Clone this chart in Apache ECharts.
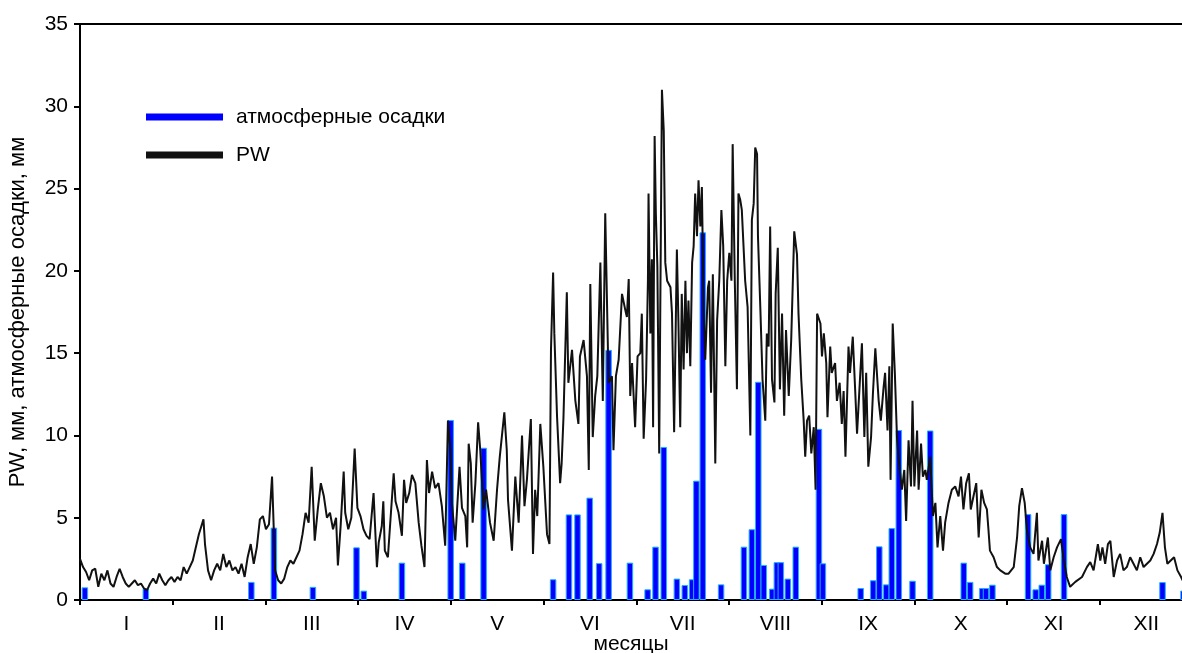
<!DOCTYPE html>
<html>
<head>
<meta charset="utf-8">
<script src="https://cdn.jsdelivr.net/npm/echarts@6/dist/echarts.min.js"></script>
<style>
html,body{margin:0;padding:0;background:#fff;}
#chart{width:1182px;height:653px;}
</style>
</head>
<body>
<div id="chart"></div>
<script>
// Month labels (x axis)
const monthLabels = ['I','II','III','IV','V','VI','VII','VIII','IX','X','XI','XII'];
const daysInYear = 365;
const visibleDays = 361.5; // the reference is cropped a little before the end of December
const yTicks = [0,5,10,15,20,25,30,35];

// Precipitable water (PW), mm — day of year / value
const pwDay = [0,1,2,3,4,5,6,7,8,9,10,11,12,13,14,15,16,17,18,19,20,21,22,23,24,25,26,27,28,29,30,31,32,33,34,35,36,37,38,39,40,40.5,41,42,43,44,45,46,47,48,49,50,51,52,53,54,55,56,57,58,59,60,61,62,63,64,65,66,67,
68,69,70,71,72,73,74,75,76,77,78,79,80,81,82,83,84,84.6,85.5,86.5,87,88,89,90.1,91,92,93,94,95,96.3,97.4,
98,99,99.5,100,101,102,102.9,103.5,104.5,105.6,106.3,107,108,108.9,110,111.1,112,113,113.8,114.5,115.5,116.5,117.6,118.7,119.8,120.7,121.5,122,123.1,124.5,125.3,126.4,127,127.5,128.2,128.8,129.7,130.6,131.3,132.4,133.2,134.5,135.7,136.8,137.7,139.2,140,140.4,141.7,142.8,143.9,145,145.8,146.6,147.9,148.6,149.3,150,151,152,153.2,154,154.5,155.2,155.6,156.5,157.5,158,158.6,159.7,160.2,161.4,162.5,163.5,164,165.2,166.3,166.9,167.4,168.2,169,169.7,170.7,171.5,172.3,173.4,174.5,175,175.8,176.7,177.8,178.9,179.4,180,180.5,181.1,182.1,182.9,183.8,184.3,184.9,185.7,186.3,186.5,187.1,187.6,188,188.5,188.9,189.4,190,190.9,191.5,192,192.6,193.7,194.2,194.9,195.8,196.3,196.9,197.4,198,198.6,199.1,199.6,200.2,200.8,201.3,201.8,202.4,202.9,203.5,204,204.6,205.1,206,206.4,207,207.6,208.4,209,209.7,210.4,211,211.7,212.3,213,213.7,214.1,214.8,215.5,216,216.6,217.1,218.2,219,219.9,220.4,221,221.5,222.1,222.4,223.2,223.9,224.8,225.3,225.9,226.4,227,227.8,228.2,228.9,229.6,230.3,231,231.6,232.5,233.3,234.3,235.2,235.7,236.6,237.4,237.9,238.5,239.2,239.9,240.7,241.3,241.8,242.9,243.4,244,244.8,245.2,246.1,246.6,247.7,248.3,249.2,249.9,250.5,251.1,252.1,252.6,253.5,254.3,254.9,255.8,256.5,257.3,257.9,258.6,259.5,260.1,260.9,262,262.7,263.6,264.1,264.9,265.5,265.9,266.6,267.3,268,268.5,269.6,270.4,271,271.8,272.6,273.1,273.7,274.6,275.1,275.9,276.5,277.3,277.8,278.9,279.8,280.6,281.3,282.2,283.1,283.8,284.9,286,287.1,288.2,289,289.8,290.7,291.6,292.2,293.1,294,294.8,295.7,296.6,297.5,298,298.5,299.7,300.8,301.9,303.5,304.6,306.3,307.4,308.1,309,309.9,310.6,311.7,312.8,313.9,314.4,315.6,316.2,317.5,318.3,319.4,320.5,321.8,322.6,323.7,324.8,326.5,328.7,330.3,331.4,332.5,333.9,334.7,335.4,336.3,337.2,338,339.1,340.2,341.2,342.3,343.4,344.5,345.6,346.7,347.8,348.9,350,351.1,352.2,353.3,354.2,355.1,355.9,356.7,357.8,358.9,360,361.2,361.7,363];
const pwValue = [2.5,2.0,1.7,1.2,1.8,1.9,0.8,1.6,1.2,1.8,1.0,0.8,1.4,1.9,1.4,1.0,0.8,1.0,1.2,0.9,1.0,0.7,0.6,1.0,1.3,1.0,1.6,1.2,0.9,1.2,1.4,1.1,1.4,1.2,2.0,1.6,2.0,2.4,3.2,4.0,4.6,4.9,3.4,1.8,1.2,1.8,2.2,1.8,2.8,2.0,2.4,1.8,2.0,1.6,2.2,1.4,2.6,3.4,2.2,3.2,4.9,5.1,4.3,4.6,7.5,1.8,1.2,1.0,1.3,
2.0,2.4,2.2,2.6,3.0,4.0,5.3,4.7,8.1,3.6,5.5,7.1,6.3,5.0,5.3,4.3,5.0,2.1,4.5,7.8,5.3,4.3,5.0,9.2,5.6,5.1,4.3,3.9,3.7,6.5,2.0,
3.5,4.5,6.0,3.0,2.6,5.3,7.7,6.0,5.3,3.9,7.3,5.9,6.5,7.6,7.1,4.7,3.3,2.0,8.5,6.5,7.8,6.8,7.1,5.7,3.3,10.9,9.1,5.9,3.6,8.1,5.6,5.1,3.2,9.5,8.3,4.7,7.1,10.8,9.1,5.5,6.7,4.7,3.6,6.7,8.7,11.4,9.1,6.1,3.0,7.5,4.7,10.0,5.7,7.3,11.0,2.8,6.7,5.1,10.7,8.1,4.0,3.4,15.2,19.9,16.2,11.1,7.1,8.3,11.1,18.7,13.2,15.2,12.1,10.7,14.8,15.8,13.6,7.9,19.2,9.9,12.4,13.6,20.5,12.1,23.5,13.2,13.6,9.1,13.6,14.6,18.6,17.6,17.2,19.5,12.4,14.4,10.5,14.8,15.0,17.4,9.8,13.4,19.4,24.7,16.2,20.7,10.5,28.2,23.5,20.3,8.9,31.0,28.5,20.5,19.4,19.0,17.4,10.2,21.3,17.0,10.5,18.6,14.0,19.4,15.0,18.2,14.2,20.5,21.5,24.7,22.1,25.5,22.7,25.1,17.4,14.6,19.0,19.4,12.6,19.8,8.3,17.0,19.4,23.7,21.5,14.2,19.4,21.1,19.4,27.7,19.4,12.8,24.7,24.3,23.7,19.4,17.8,10.0,23.1,24.1,27.5,27.1,22.1,17.6,13.4,10.9,16.2,15.4,22.7,13.4,12.0,18.6,21.4,12.8,17.4,11.2,16.4,12.4,15.8,22.4,21.0,17.4,13.4,10.9,8.7,10.9,11.2,8.9,10.5,6.7,17.4,16.8,14.8,16.2,14.4,11.1,15.4,13.8,14.4,12.1,13.2,10.7,12.7,8.7,15.4,13.8,16.0,12.7,10.1,13.2,15.6,9.9,13.8,8.1,9.9,12.5,15.3,12.1,10.9,12.9,13.8,10.3,14.2,7.3,16.8,13.8,9.9,8.7,6.7,7.9,4.8,9.7,6.9,12.1,6.9,10.3,6.7,9.5,7.5,7.9,7.3,8.7,5.1,5.9,3.2,5.1,3.0,4.7,5.9,6.7,6.9,6.3,7.5,5.5,7.1,7.7,5.5,6.3,7.1,3.8,6.7,5.9,5.5,4.3,3.0,2.6,2.0,1.8,1.6,1.6,2.0,3.8,5.7,6.8,5.9,4.3,3.2,2.8,5.3,2.4,3.6,2.2,3.8,1.8,2.6,3.2,3.7,2.6,1.4,0.8,1.1,1.4,2.0,2.3,1.8,3.4,2.4,3.2,2.2,3.4,3.6,1.4,2.4,2.8,1.8,2.0,2.6,2.2,1.8,2.6,2.0,2.2,2.4,2.8,3.4,4.1,5.3,3.2,2.2,2.4,2.6,1.8,1.4,1.2,1.3];

// Precipitation, mm — day of year / value
const rainDay = [1.6,21.6,56.2,63.6,76.4,90.7,93.1,105.6,121.6,125.4,132.4,155.2,160.4,163.2,167.2,170.3,173.4,180.4,186.2,188.8,191.5,195.8,198.4,200.8,202.2,204.3,210.3,217.8,220.4,222.5,224.3,227.1,228.6,229.9,232.2,234.8,242.4,243.7,256.1,260.2,262.2,264.5,266.3,268.6,273.1,278.9,289.9,292,296,297.2,299.3,311,313.5,315.5,317.6,322.8,355.1,362];
const rainValue = [0.77,0.7,1.1,4.4,0.8,3.2,0.57,2.27,10.94,2.27,9.25,1.26,5.2,5.2,6.22,2.24,15.2,2.27,0.65,3.24,9.3,1.3,0.91,1.26,7.25,22.34,0.95,3.24,4.3,13.26,2.13,0.69,2.3,2.3,1.3,3.24,10.4,2.23,0.73,1.2,3.26,0.95,4.37,10.33,1.17,10.3,2.27,1.1,0.73,0.73,0.93,5.22,0.65,0.93,2.17,5.22,1.09,0.57];

const monthLen = daysInYear / 12;
const tickVals = monthLabels.map((m, i) => i * monthLen);
const labelVals = monthLabels.map((m, i) => (i + 0.5) * monthLen);

const FONT = '"Liberation Sans", Arial, sans-serif';
const chart = echarts.init(document.getElementById('chart'), null, {renderer: 'canvas'});
chart.setOption({
  animation: false,
  backgroundColor: '#fff',
  grid: {left: 80, right: 0, top: 24, bottom: 53, containLabel: false, outerBoundsMode: 'none'},
  legend: {
    orient: 'vertical', left: 146, top: 106, padding: 0, itemWidth: 77, itemHeight: 7, itemGap: 16,
    icon: 'rect',
    textStyle: {fontFamily: FONT, fontSize: 21, color: '#000', padding: [0, 0, 0, 8], lineHeight: 22},
    data: [
      {name: 'атмосферные осадки', itemStyle: {color: '#0000ff', borderWidth: 0}},
      {name: 'PW', itemStyle: {color: '#111111', borderWidth: 0}}
    ]
  },
  xAxis: [{
    type: 'value', min: 0, max: visibleDays, position: 'bottom',
    name: 'месяцы', nameLocation: 'middle', nameGap: 34, nameMoveOverlap: false,
    nameTextStyle: {fontFamily: FONT, fontSize: 21, color: '#000'},
    axisLine: {show: true, onZero: false, lineStyle: {color: '#000', width: 2}},
    axisTick: {show: true, inside: false, length: 5, lineStyle: {color: '#000', width: 2}, customValues: tickVals},
    axisLabel: {
      customValues: labelVals, margin: 14,
      fontFamily: FONT, fontSize: 21, color: '#000',
      formatter: v => monthLabels[Math.floor(v / monthLen)]
    },
    splitLine: {show: false}
  }, {
    type: 'value', min: 0, max: visibleDays, position: 'top',
    axisLine: {show: true, onZero: false, lineStyle: {color: '#000', width: 2}},
    axisTick: {show: false}, axisLabel: {show: false}, splitLine: {show: false}
  }],
  yAxis: {
    type: 'value', min: 0, max: 35, interval: 5,
    name: 'PW, мм, атмосферные осадки, мм', nameLocation: 'middle', nameRotate: 90, nameGap: 51, nameMoveOverlap: false,
    nameTextStyle: {fontFamily: FONT, fontSize: 22, color: '#000'},
    axisLine: {show: true, lineStyle: {color: '#000', width: 2}},
    axisTick: {show: true, inside: false, length: 6, lineStyle: {color: '#000', width: 2}},
    axisLabel: {fontFamily: FONT, fontSize: 21, color: '#000', margin: 12,
      formatter: v => yTicks.indexOf(v) >= 0 ? String(v) : ''},
    splitLine: {show: false}
  },
  series: [{
    name: 'атмосферные осадки', type: 'bar', xAxisIndex: 0, barWidth: 6.5,
    itemStyle: {color: '#0000ff', borderColor: '#20b0ff', borderWidth: 1},
    data: rainDay.map((d, i) => [d, rainValue[i]]),
    z: 2
  }, {
    name: 'PW', type: 'line', xAxisIndex: 0, showSymbol: false, symbol: 'none',
    lineStyle: {color: '#111111', width: 2},
    itemStyle: {color: '#111111'},
    data: pwDay.map((d, i) => [d, pwValue[i]]),
    z: 3
  }]
});
</script>
</body>
</html>
